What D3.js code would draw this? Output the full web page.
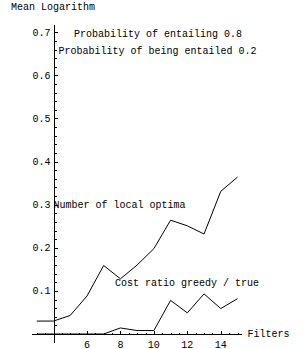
<!DOCTYPE html>
<html>
<head>
<meta charset="utf-8">
<script src="https://cdn.jsdelivr.net/npm/d3@7"></script>
<style>
body { margin: 0; background: #fff; }
text { font-family: "Liberation Mono", "DejaVu Sans Mono", monospace; font-size: 10px; fill: #000; }
</style>
</head>
<body>
<script>
const svgWidth = 308;
const svgHeight = 349;

// data
const filters = [3, 4, 5, 6, 7, 8, 9, 10, 11, 12, 13, 14, 15];
const localOptima = [0.03, 0.03, 0.043, 0.088, 0.159, 0.128, 0.16, 0.198, 0.264, 0.251, 0.232, 0.331, 0.364];
const costRatio = [0, 0, 0, 0, 0, 0.014, 0.008, 0.008, 0.078, 0.049, 0.093, 0.059, 0.082];
const xTicks = [6, 8, 10, 12, 14];
const yTicks = [0.1, 0.2, 0.3, 0.4, 0.5, 0.6, 0.7];

const svg = d3.select("body")
.append("svg")
.attr("width", svgWidth)
.attr("height", svgHeight);

const x = d3.scaleLinear().domain([4, 15]).range([53.5, 237.5]);
const y = d3.scaleLinear().domain([0, 0.7]).range([334, 32.3]);

const axes = svg.append("g").attr("shape-rendering", "crispEdges").attr("stroke", "#000");

// x axis
axes.append("line")
.attr("x1", x(2.7)).attr("x2", x(15.25))
.attr("y1", Math.round(y(0)) + 0.5).attr("y2", Math.round(y(0)) + 0.5);
// y axis
axes.append("line")
.attr("x1", Math.round(x(4)) + 0.5).attr("x2", Math.round(x(4)) + 0.5)
.attr("y1", y(-0.021)).attr("y2", y(0.717));

// minor ticks x
d3.range(3, 15.3, 0.5).forEach(v => {
  if (Math.abs(v - 4) < 1e-6) return;
  const major = Math.abs(v % 2) < 1e-6;
  axes.append("line")
  .attr("x1", Math.round(x(v)) + 0.5).attr("x2", Math.round(x(v)) + 0.5)
  .attr("y1", Math.round(y(0))).attr("y2", Math.round(y(0)) - (major ? 3 : 1));
});
// minor ticks y
d3.range(0.02, 0.711, 0.02).forEach(v => {
  const major = Math.abs(v * 10 - Math.round(v * 10)) < 1e-6;
  axes.append("line")
  .attr("x1", Math.round(x(4)) + 1).attr("x2", Math.round(x(4)) + 1 + (major ? 3 : 2))
  .attr("y1", Math.round(y(v)) + 0.5).attr("y2", Math.round(y(v)) + 0.5);
});

svg.selectAll(".xlab")
.data(xTicks)
.enter()
.append("text")
.attr("x", d => x(d))
.attr("y", 347.5)
.attr("text-anchor", "middle")
.text(d => d);

svg.selectAll(".ylab")
.data(yTicks)
.enter()
.append("text")
.attr("x", 50.5)
.attr("y", d => y(d) + 3.5)
.attr("text-anchor", "end")
.text(d => d3.format(".1f")(d));

const line = d3.line()
.x((d, i) => x(filters[i]))
.y(d => y(d));

[localOptima, costRatio].forEach(series => {
  svg.append("path")
  .attr("d", line(series))
  .style("fill", "none")
  .style("stroke", "#000")
  .style("stroke-width", 1);
});

const labels = [
  ["Mean Logarithm", 11, 9.5],
  ["Probability of entailing 0.8", 74, 36.5],
  ["Probability of being entailed 0.2", 58.5, 53.5],
  ["Number of local optima", 53.5, 207.5],
  ["Cost ratio greedy / true", 115, 285.5],
  ["Filters", 247.5, 337]
];

svg.selectAll(".lab")
.data(labels)
.enter()
.append("text")
.attr("x", d => d[1])
.attr("y", d => d[2])
.text(d => d[0]);
</script>
</body>
</html>
